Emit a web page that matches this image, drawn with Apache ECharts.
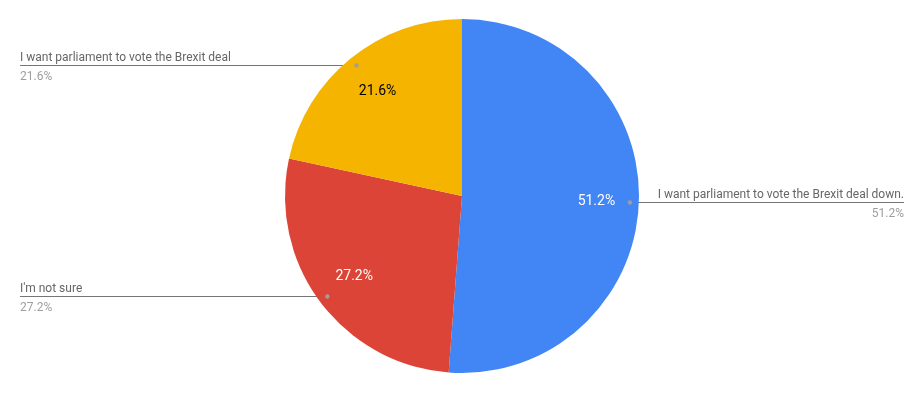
<!DOCTYPE html>
<html>
<head>
<meta charset="utf-8">
<script src="https://cdn.jsdelivr.net/npm/echarts@6/dist/echarts.min.js"></script>
<style>
html,body{margin:0;padding:0;background:#fff;}
#chart{width:924px;height:393px;}
</style>
</head>
<body>
<div id="chart"></div>
<script>
var categories = [
  "I want parliament to vote the Brexit deal down.",
  "I'm not sure",
  "I want parliament to vote the Brexit deal"
];
var values = [51.2, 27.2, 21.6];
var colors = ["#4285f4", "#db4437", "#f4b400"];
var insideLabelColors = ["#ffffff", "#ffffff", "#000000"];

var CX = 462, CY = 196, R = 177;
var LEFT_EDGE = 20, RIGHT_EDGE = 904;
var FONT = "Roboto, Arial, sans-serif";

var total = values.reduce(function (a, b) { return a + b; }, 0);
function pct(v) { return (v / total * 100).toFixed(1) + "%"; }

var pieData = categories.map(function (c, i) {
  return { name: c, value: values[i], itemStyle: { color: colors[i] } };
});

var chart = echarts.init(document.getElementById('chart'), null, { renderer: 'canvas' });

var option = {
  animation: false,
  backgroundColor: '#ffffff',
  series: [
    {
      type: 'pie',
      center: [CX, CY],
      radius: [0, R],
      startAngle: 90,
      clockwise: true,
      silent: true,
      label: { show: false },
      labelLine: { show: false },
      data: pieData
    },
    {
      type: 'pie',
      center: [CX, CY],
      radius: [86, R],
      startAngle: 90,
      clockwise: true,
      silent: true,
      itemStyle: { color: 'rgba(0,0,0,0)' },
      label: {
        show: true,
        position: 'inside',
        fontFamily: FONT,
        fontSize: 14,
        formatter: function (p) { return pct(p.value); },
        color: '#fff'
      },
      labelLine: { show: false },
      data: categories.map(function (c, i) {
        return {
          name: c, value: values[i],
          itemStyle: { color: 'rgba(0,0,0,0)' },
          label: { color: insideLabelColors[i] }
        };
      })
    },
    {
      type: 'pie',
      center: [CX, CY],
      radius: [0, 168],
      startAngle: 90,
      clockwise: true,
      silent: true,
      itemStyle: { color: 'rgba(0,0,0,0)' },
      label: {
        show: true,
        position: 'outside',
        fontFamily: FONT,
        formatter: function (p) { return '{n|' + p.name + '}\n{p|' + pct(p.value) + '}'; },
        rich: {
          n: { fontFamily: FONT, fontSize: 12, color: '#666666', lineHeight: 22 },
          p: { fontFamily: FONT, fontSize: 12, color: '#9e9e9e', lineHeight: 16 }
        }
      },
      labelLine: {
        show: true,
        length: 4,
        length2: 4,
        lineStyle: { color: '#757575', width: 1 }
      },
      labelLayout: function (params) {
        var p0 = params.labelLinePoints ? params.labelLinePoints[0] : null;
        if (!p0) return {};
        var right = p0[0] > CX;
        var ex = right ? RIGHT_EDGE : LEFT_EDGE;
        var y = Math.round(p0[1]) + 0.5;
        return {
          x: ex,
          y: y,
          align: right ? 'right' : 'left',
          verticalAlign: 'middle',
          labelLinePoints: [[p0[0], y], [ex, y], [ex, y]]
        };
      },
      data: categories.map(function (c, i) {
        return {
          name: c, value: values[i],
          itemStyle: { color: 'rgba(0,0,0,0)' },
          label: { align: 'left' }
        };
      })
    }
  ]
};

chart.setOption(option);

// small grey anchor dots at the start of each leader line, taken from the series layout
var layoutData = chart.getModel().getSeriesByIndex(2).getData();
var dots = [];
for (var i = 0; i < layoutData.count(); i++) {
  var lay = layoutData.getItemLayout(i);
  var mid = (lay.startAngle + lay.endAngle) / 2;
  var dx = Math.cos(mid) * lay.r;
  var dy = Math.sin(mid) * lay.r;
  dots.push({
    type: 'circle',
    silent: true,
    z: 100,
    shape: { cx: lay.cx + dx, cy: Math.round(lay.cy + dy) + 0.5, r: 2.2 },
    style: { fill: '#9e9e9e' }
  });
}
chart.setOption({ graphic: dots });
</script>
</body>
</html>
